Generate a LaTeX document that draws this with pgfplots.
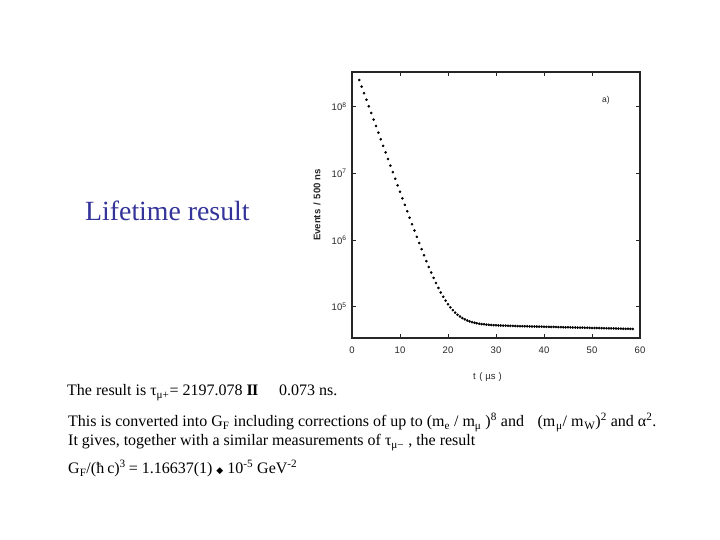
\documentclass[border=0pt]{standalone}
\usepackage{fontspec}
\setmainfont{Liberation Serif}
\setsansfont{Liberation Sans}
\newfontfamily\dejavu{DejaVu Sans}
\usepackage{pgfplots}
\pgfplotsset{compat=1.18}
\definecolor{titleblue}{HTML}{333399}
\begin{document}
\begin{tikzpicture}[x=1bp,y=1bp]
\fill[white] (0,0) rectangle (720,540);
\path[use as bounding box] (0,0) rectangle (720,540);
\begin{axis}[
  at={(352bp,202bp)}, anchor=south west,
  scale only axis, width=288bp, height=266bp,
  xmin=0, xmax=60, ymode=log, ymin=3.39e4, ymax=3.31e8,
  xtick={0,10,20,30,40,50,60},
  ytick={1e5,1e6,1e7,1e8},
  yticklabels={10\textsuperscript{5},10\textsuperscript{6},10\textsuperscript{7},10\textsuperscript{8}},
  yminorticks=false,
  /pgf/number format/assume math mode=true,
  tick align=inside,
  major tick length=4bp,
  tick style={black!85, line width=0.8bp},
  axis line style={black!85, line width=1.3bp},
  ticklabel style={font=\sffamily\fontsize{9.5bp}{10bp}\selectfont, black!85},
  xticklabel style={yshift=-5bp},
  yticklabel style={xshift=-2bp},
  xlabel={t\hspace{0.4em}(\hspace{0.3em}µs\hspace{0.3em})},
  xlabel style={font=\sffamily\fontsize{9.5bp}{10bp}\selectfont, black!85, at={(axis description cs:0.47,0)}, anchor=north, yshift=-31bp},
  ylabel={Events\hspace{0.4em}/\hspace{0.4em}500\hspace{0.3em}ns},
  ylabel style={font=\sffamily\bfseries\fontsize{9.6bp}{10bp}\selectfont, black!85, at={(axis description cs:0,0.5)}, anchor=south, yshift=28bp},
  clip=false,
]
\addplot[only marks, mark=*, mark size=1.1bp, black] coordinates {
(1.5,251200000) (2.0,200100000) (2.5,159400000) (3.0,126900000) (3.5,101100000)
(4.0,80460000) (4.5,64060000) (5.0,51060000) (5.5,40660000) (6.0,32360000)
(6.5,25800000) (7.0,20560000) (7.5,16380000) (8.0,13050000) (8.5,10400000)
(9.0,8296000) (9.5,6616000) (10.0,5286000) (10.5,4216000) (11.0,3366000)
(11.5,2695000) (12.0,2156000) (12.5,1728000) (13.0,1387000) (13.5,1115000)
(14.0,899200) (14.5,727100) (15.0,590000) (15.5,480900) (16.0,393800)
(16.5,324700) (17.0,269600) (17.5,226100) (18.0,190800) (18.5,162900)
(19.0,140700) (19.5,123000) (20.0,108800) (20.5,97600) (21.0,88600)
(21.5,81400) (22.0,75650) (22.5,71060) (23.0,67380) (23.5,64430)
(24.0,62070) (24.5,60160) (25.0,58620) (25.5,57380) (26.0,56360)
(26.5,55540) (27.0,54860) (27.5,54300) (28.0,53830) (28.5,53440)
(29.0,53110) (29.5,52820) (30.0,52580) (30.5,52360) (31.0,52170)
(31.5,51990) (32.0,51830) (32.5,51690) (33.0,51550) (33.5,51420)
(34.0,51290) (34.5,51150) (35.0,51020) (35.5,50930) (36.0,50820)
(36.5,50690) (37.0,50610) (37.5,50520) (38.0,50380) (38.5,50310)
(39.0,50190) (39.5,50120) (40.0,50010) (40.5,49880) (41.0,49820)
(41.5,49690) (42.0,49610) (42.5,49520) (43.0,49380) (43.5,49310)
(44.0,49220) (44.5,49090) (45.0,49010) (45.5,48920) (46.0,48780)
(46.5,48710) (47.0,48620) (47.5,48490) (48.0,48410) (48.5,48320)
(49.0,48180) (49.5,48110) (50.0,48020) (50.5,47890) (51.0,47810)
(51.5,47720) (52.0,47580) (52.5,47510) (53.0,47420) (53.5,47290)
(54.0,47210) (54.5,47120) (55.0,46980) (55.5,46910) (56.0,46820)
(56.5,46690) (57.0,46610) (57.5,46520) (58.0,46380) (58.5,46310)
};
\node[font=\sffamily\fontsize{8.5bp}{9bp}\selectfont, black!85] at (axis cs:52.9,1.26e8) {a)};
\end{axis}
% title
\node[anchor=base west, inner sep=0, text=titleblue, font=\fontsize{27.8bp}{30bp}\selectfont] at (85,319) {Lifetime result};
% body text
\begin{scope}[every node/.style={anchor=base west, inner sep=0, font=\fontsize{16bp}{18bp}\selectfont}]
\node at (67,144) {The result is τ\textsubscript{μ+}= 2197.078 \textbf{I\kern-0.6bp I}\hspace{1.3em}0.073 ns.};
\node at (68,113) {This is converted into G\textsubscript{F} including corrections of up to (m\textsubscript{e} / m\textsubscript{μ} )\textsuperscript{8} and\hspace{0.85em}(m\kern0.8bp\textsubscript{μ}/ m\kern0.8bp\textsubscript{W})\textsuperscript{2} and α\textsuperscript{2}.};
\node at (68,94) {It gives, together with a similar measurements of τ\textsubscript{μ−} , the result};
\node at (68,66) {G\textsubscript{F}/(ħ\kern3bp c)\textsuperscript{3}\kern3bp = 1.16637(1) {\dejavu\fontsize{9bp}{10bp}\selectfont ◆} 10\textsuperscript{-5} GeV\textsuperscript{-2}};
\end{scope}
\end{tikzpicture}
\end{document}
